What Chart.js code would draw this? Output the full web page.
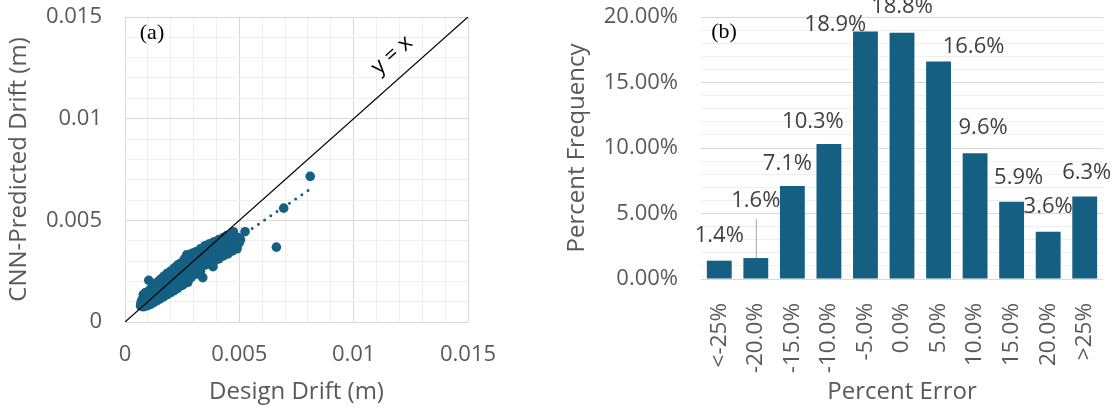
<!DOCTYPE html>
<html>
<head>
<meta charset="utf-8">
<title>CNN drift prediction</title>
<script src="https://cdn.jsdelivr.net/npm/chart.js@4.4.1/dist/chart.umd.min.js"></script>
<style>
    html, body { margin: 0; padding: 0; background: #fff; }
    #wrap { position: relative; width: 1112px; height: 411px; overflow: hidden; }
    canvas { position: absolute; top: 0; }
    #scatter { left: 0; }
    #hist { left: 556px; }
</style>
</head>
<body>
<div id="wrap">
    <canvas id="scatter" width="556" height="411"></canvas>
    <canvas id="hist" width="556" height="411"></canvas>
</div>
<script>
// (a) design drift vs CNN-predicted drift, metres
const designDrift = [
    0.00068, 0.00070, 0.00072, 0.00075, 0.00076, 0.00079, 0.00080, 0.00083, 0.00084, 0.00086,
    0.00088, 0.00090, 0.00092, 0.00093, 0.00095, 0.00097, 0.00100, 0.00102, 0.00104, 0.00105,
    0.00108, 0.00110, 0.00113, 0.00115, 0.00118, 0.00120, 0.00123, 0.00125, 0.00128, 0.00130,
    0.00133, 0.00135, 0.00138, 0.00140, 0.00143, 0.00146, 0.00150, 0.00152, 0.00155, 0.00158,
    0.00162, 0.00165, 0.00168, 0.00170, 0.00175, 0.00178, 0.00182, 0.00185, 0.00188, 0.00192,
    0.00195, 0.00198, 0.00202, 0.00205, 0.00210, 0.00213, 0.00216, 0.00220, 0.00223, 0.00226,
    0.00230, 0.00234, 0.00238, 0.00240, 0.00245, 0.00250, 0.00255, 0.00258, 0.00262, 0.00266,
    0.00270, 0.00273, 0.00278, 0.00282, 0.00286, 0.00290, 0.00295, 0.00300, 0.00302, 0.00306,
    0.00310, 0.00315, 0.00320, 0.00324, 0.00328, 0.00332, 0.00336, 0.00340, 0.00343, 0.00347,
    0.00352, 0.00356, 0.00360, 0.00365, 0.00370, 0.00374, 0.00380, 0.00385, 0.00388, 0.00392,
    0.00396, 0.00400, 0.00405, 0.00410, 0.00414, 0.00418, 0.00422, 0.00426, 0.00430, 0.00435,
    0.00440, 0.00445, 0.00450, 0.00455, 0.00459, 0.00465, 0.00474, 0.00470, 0.00480, 0.00485,
    0.00490, 0.00500, 0.00525, 0.00255, 0.00275, 0.00455, 0.00478, 0.00495, 0.00505,
    // upper edge of the band
    0.00080, 0.00090, 0.00110, 0.00120, 0.00130, 0.00140, 0.00155, 0.00170, 0.00185, 0.00200,
    0.00215, 0.00230, 0.00245, 0.00260, 0.00275, 0.00290, 0.00310, 0.00330, 0.00350, 0.00370,
    0.00390, 0.00410, 0.00430, 0.00445,
    // lower edge of the band
    0.00080, 0.00095, 0.00110, 0.00125, 0.00140, 0.00155, 0.00170, 0.00185, 0.00200, 0.00215,
    0.00230, 0.00250, 0.00270, 0.00290, 0.00310, 0.00330, 0.00350, 0.00370, 0.00390, 0.00410,
    0.00430, 0.00450, 0.00470, 0.00490,
    // stragglers
    0.00662, 0.00694, 0.00810
];
const predictedDrift = [
    0.00080, 0.00090, 0.00102, 0.00084, 0.00110, 0.00094, 0.00120, 0.00082, 0.00105, 0.00130,
    0.00090, 0.00115, 0.00086, 0.00138, 0.00100, 0.00124, 0.00092, 0.00110, 0.00205, 0.00145,
    0.00102, 0.00125, 0.00150, 0.00110, 0.00135, 0.00104, 0.00160, 0.00122, 0.00144, 0.00116,
    0.00170, 0.00130, 0.00155, 0.00122, 0.00185, 0.00140, 0.00165, 0.00128, 0.00195, 0.00148,
    0.00175, 0.00136, 0.00210, 0.00158, 0.00188, 0.00146, 0.00220, 0.00168, 0.00200, 0.00156,
    0.00230, 0.00180, 0.00210, 0.00166, 0.00245, 0.00195, 0.00225, 0.00176, 0.00270, 0.00205,
    0.00240, 0.00188, 0.00285, 0.00220, 0.00260, 0.00200, 0.00295, 0.00235, 0.00270, 0.00215,
    0.00330, 0.00250, 0.00290, 0.00230, 0.00325, 0.00265, 0.00305, 0.00340, 0.00245, 0.00280,
    0.00315, 0.00260, 0.00335, 0.00295, 0.00270, 0.00315, 0.00350, 0.00218, 0.00290, 0.00330,
    0.00360, 0.00305, 0.00340, 0.00315, 0.00370, 0.00330, 0.00355, 0.00272, 0.00325, 0.00380,
    0.00345, 0.00365, 0.00390, 0.00335, 0.00375, 0.00400, 0.00355, 0.00385, 0.00360, 0.00400,
    0.00375, 0.00390, 0.00355, 0.00380, 0.00354, 0.00375, 0.00444, 0.00395, 0.00380, 0.00405,
    0.00375, 0.00390, 0.00444, 0.00185, 0.00195, 0.00410, 0.00420, 0.00415, 0.00405,
    0.00135, 0.00145, 0.00160, 0.00170, 0.00180, 0.00195, 0.00210, 0.00225, 0.00240, 0.00250,
    0.00265, 0.00280, 0.00290, 0.00310, 0.00320, 0.00335, 0.00345, 0.00360, 0.00375, 0.00385,
    0.00395, 0.00405, 0.00415, 0.00425,
    0.00075, 0.00080, 0.00086, 0.00095, 0.00105, 0.00115, 0.00125, 0.00135, 0.00145, 0.00155,
    0.00165, 0.00180, 0.00200, 0.00220, 0.00235, 0.00250, 0.00280, 0.00285, 0.00300, 0.00310,
    0.00325, 0.00335, 0.00350, 0.00360,
    0.00368, 0.00560, 0.00716
];
const trendX = [0.00068, 0.00810];
const trendY = [0.00087, 0.00654];
const refLine = [0, 0.015];

// (b) histogram of percent error
const errorBins = ['<-25%', '-20.0%', '-15.0%', '-10.0%', '-5.0%', '0.0%', '5.0%', '10.0%', '15.0%', '20.0%', '>25%'];
const percentFreq = [1.4, 1.6, 7.1, 10.3, 18.9, 18.8, 16.6, 9.6, 5.9, 3.6, 6.3];

// label placement tweaks (px) the way the spreadsheet laid them out
const labelNudge = [[0, -1], [0, -33], [-5, 2], [-16, 2], [-30, 17], [0, -2], [35, 9], [8, -2], [7, 0], [0, -1], [2, 0]];
const leaderBar = 1;
const yxLabelAt = [0.01168, 0.01313];

const FONT = '"Open Sans", "Noto Sans", sans-serif';
const GREY = '#595959';
const BLUE = '#156082';
const MAJOR = '#d9d9d9';
const MINOR = '#efefef';

const scatterNotes = {
    id: 'scatterNotes',
    afterDraw(chart) {
        const { ctx } = chart;
        const xs = chart.scales.x, ys = chart.scales.y;
        ctx.save();
        ctx.fillStyle = '#000';
        ctx.textAlign = 'center';
        ctx.textBaseline = 'middle';
        ctx.font = '22px "Liberation Serif", serif';
        ctx.fillText('(a)', xs.left + 27, ys.top + 16);

        const angle = Math.atan2(ys.getPixelForValue(0) - ys.getPixelForValue(0.01),
            xs.getPixelForValue(0.01) - xs.getPixelForValue(0));
        ctx.translate(xs.getPixelForValue(yxLabelAt[0]), ys.getPixelForValue(yxLabelAt[1]));
        ctx.rotate(-angle);
        ctx.font = '22px ' + FONT;
        ctx.fillText('y = x', 0, 0);
        ctx.restore();
    }
};

const barLabels = {
    id: 'barLabels',
    afterDatasetsDraw(chart) {
        const { ctx } = chart;
        const meta = chart.getDatasetMeta(0);
        ctx.save();
        ctx.font = '22px ' + FONT;
        ctx.fillStyle = '#404040';
        ctx.textAlign = 'center';
        ctx.textBaseline = 'middle';
        meta.data.forEach((bar, i) => {
            const [dx, dy] = labelNudge[i];
            const lx = bar.x + dx, ly = bar.y - 24 + dy;
            ctx.fillText(percentFreq[i].toFixed(1) + '%', lx, ly);
            if (i === leaderBar) {
                ctx.strokeStyle = '#a6a6a6';
                ctx.lineWidth = 1;
                ctx.beginPath();
                ctx.moveTo(bar.x + 0.5, ly + 18);
                ctx.lineTo(bar.x + 0.5, bar.y);
                ctx.stroke();
            }
        });
        ctx.font = '22px "Liberation Serif", serif';
        ctx.fillStyle = '#000';
        ctx.fillText('(b)', chart.chartArea.left + 23, chart.chartArea.top + 15);
        ctx.restore();
    }
};

const isMajor = (v, unit) => Math.round(v / unit) % 5 === 0;

// fixed axis boxes so the plot area lands where the original has it
const fixY = width => s => { s.width = width; s.paddingTop = 0; s.paddingBottom = 0; };
const fixX = height => s => { s.height = height; s.paddingLeft = 0; s.paddingRight = 0; };

new Chart(document.getElementById('scatter'), {
    type: 'scatter',
    data: {
        datasets: [
            {
                type: 'line',
                data: refLine.map(v => ({ x: v, y: v })),
                borderColor: '#000',
                borderWidth: 1.3,
                pointRadius: 0,
                showLine: true
            },
            {
                type: 'line',
                data: trendX.map((x, i) => ({ x, y: trendY[i] })),
                borderColor: BLUE,
                borderWidth: 3,
                borderDash: [0, 7.5],
                borderCapStyle: 'round',
                pointRadius: 0,
                showLine: true
            },
            {
                data: designDrift.map((x, i) => ({ x, y: predictedDrift[i] })),
                backgroundColor: BLUE,
                borderWidth: 0,
                pointRadius: 4.8
            }
        ]
    },
    options: {
        responsive: false,
        animation: false,
        events: [],
        layout: { padding: { top: 17, right: 88, left: 0, bottom: 0 } },
        plugins: { legend: { display: false }, tooltip: { enabled: false } },
        scales: {
            x: {
                type: 'linear',
                min: 0,
                max: 0.015,
                border: { display: false },
                grid: { drawTicks: false, color: c => isMajor(c.tick.value, 0.001) ? MAJOR : MINOR },
                ticks: {
                    stepSize: 0.001,
                    autoSkip: false,
                    maxRotation: 0,
                    padding: 20,
                    color: GREY,
                    font: { family: FONT, size: 22 },
                    callback: v => isMajor(v, 0.001) ? String(+v.toFixed(3)) : ''
                },
                title: { display: true, text: 'Design Drift (m)', color: GREY, font: { family: FONT, size: 24 }, padding: { top: 0, bottom: 4 } },
                afterFit: fixX(89)
            },
            y: {
                min: 0,
                max: 0.015,
                border: { display: false },
                grid: { drawTicks: false, color: c => isMajor(c.tick.value, 0.001) ? MAJOR : MINOR },
                ticks: {
                    stepSize: 0.001,
                    autoSkip: false,
                    padding: 23,
                    color: GREY,
                    font: { family: FONT, size: 22 },
                    callback: v => isMajor(v, 0.001) ? String(+v.toFixed(3)) : ''
                },
                title: { display: true, text: 'CNN-Predicted Drift (m)', color: GREY, font: { family: FONT, size: 24 }, padding: { top: 5, bottom: 0 } },
                afterFit: fixY(125)
            }
        }
    },
    plugins: [scatterNotes]
});

new Chart(document.getElementById('hist'), {
    type: 'bar',
    data: {
        labels: errorBins,
        datasets: [{
            data: percentFreq,
            backgroundColor: BLUE,
            barPercentage: 0.68,
            categoryPercentage: 1
        }]
    },
    options: {
        responsive: false,
        animation: false,
        events: [],
        layout: { padding: { top: 17, right: 9, left: 0, bottom: 0 } },
        plugins: { legend: { display: false }, tooltip: { enabled: false } },
        scales: {
            x: {
                border: { display: false },
                grid: { display: false },
                ticks: {
                    autoSkip: false,
                    minRotation: 90,
                    maxRotation: 90,
                    padding: 16,
                    color: GREY,
                    font: { family: FONT, size: 22.5 }
                },
                title: { display: true, text: 'Percent Error', color: GREY, font: { family: FONT, size: 24 }, padding: { top: 0, bottom: 4 } },
                afterFit: fixX(132)
            },
            y: {
                min: 0,
                max: 20,
                border: { display: false },
                grid: { drawTicks: false, color: c => isMajor(c.tick.value, 1) ? MAJOR : MINOR },
                ticks: {
                    stepSize: 1,
                    autoSkip: false,
                    padding: 23,
                    color: GREY,
                    font: { family: FONT, size: 22 },
                    callback: v => isMajor(v, 1) ? v.toFixed(2) + '%' : ''
                },
                title: { display: true, text: 'Percent Frequency', color: GREY, font: { family: FONT, size: 24 }, padding: { top: 7, bottom: 0 } },
                afterFit: fixY(145)
            }
        }
    },
    plugins: [barLabels]
});
</script>
</body>
</html>
